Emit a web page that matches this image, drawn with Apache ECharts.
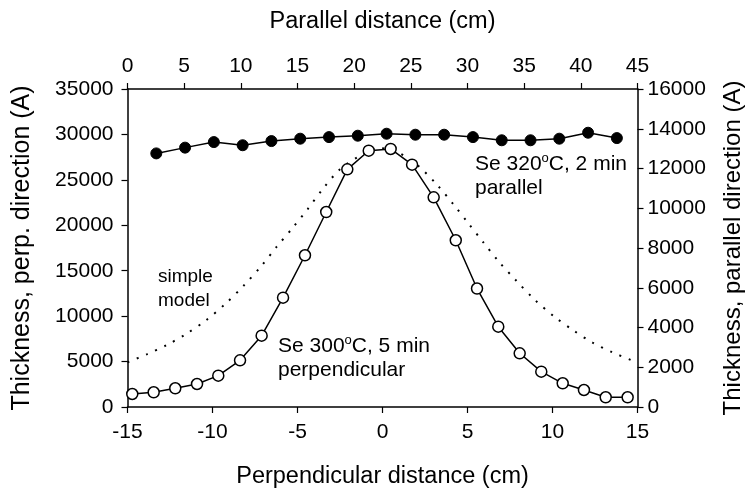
<!DOCTYPE html>
<html>
<head>
<meta charset="utf-8">
<script src="https://cdn.jsdelivr.net/npm/echarts@6/dist/echarts.min.js"></script>
<style>
	html,body{margin:0;padding:0;background:#fff;}
	#chart{width:754px;height:494px;}
</style>
</head>
<body>
<div id="chart"></div>
<script>
	// parallel direction (top x axis, right y axis)
	var parallelX = [2.54, 5.08, 7.62, 10.16, 12.70, 15.24, 17.78, 20.32, 22.86, 25.40, 27.94, 30.48, 33.02, 35.56, 38.10, 40.64, 43.18];
	var parallelY = [12760, 13050, 13330, 13170, 13380, 13500, 13580, 13650, 13750, 13700, 13700, 13580, 13420, 13420, 13500, 13800, 13530];

	// perpendicular direction (bottom x axis, left y axis)
	var perpX = [-14.72, -13.46, -12.19, -10.91, -9.66, -8.38, -7.11, -5.85, -4.56, -3.31, -2.07, -0.81, 0.48, 1.74, 3.01, 4.31, 5.56, 6.81, 8.07, 9.34, 10.60, 11.85, 13.13, 14.42];
	var perpY = [1430, 1620, 2060, 2530, 3450, 5140, 7850, 12030, 16700, 21460, 26160, 28210, 28400, 26670, 23080, 18350, 13040, 8840, 5910, 3890, 2610, 1870, 1070, 1070];

	// simple model (dotted)
	var modelX = [-15.0, -13.87, -12.69, -11.56, -10.38, -9.21, -8.15, -7.13, -6.22, -5.28, -4.40, -3.48, -2.50, -1.32, -0.2, 0.84, 2.11, 3.22, 4.16, 5.05, 5.93, 6.85, 7.87, 8.97, 10.11, 11.25, 12.36, 13.52, 14.66];
	var modelY = [4920, 5800, 6820, 8030, 9540, 11410, 13390, 15520, 17640, 19730, 21790, 24070, 26160, 27660, 28500, 28100, 26520, 24430, 22340, 20220, 18130, 15990, 13900, 11780, 9940, 8400, 7080, 6020, 5140];

	var bottomTicks = [-15, 5, 15];   // min, interval, max
	var topTicks = [0, 5, 45];
	var leftTicks = [0, 5000, 35000];
	var rightTicks = [0, 2000, 16000];

	var FONT = 'Liberation Sans, Arial, sans-serif';

	function zip(xs, ys){
		var out = [];
		for(var i=0;i<xs.length;i++){
			out.push([xs[i], ys[i]]);
		}
		return out;
	}

	function axisBase(){
		return {
			type: 'value',
			splitLine: {show: false},
			axisLine: {show: true, onZero: false, lineStyle: {color: '#000', width: 1.5}},
			axisTick: {show: true, inside: false, length: 6, lineStyle: {color: '#000', width: 1.2}},
			axisLabel: {color: '#000', fontSize: 21, fontFamily: FONT, formatter: function(v){ return String(v); }},
			nameTextStyle: {color: '#000', fontSize: 23.5, fontFamily: FONT},
			nameLocation: 'middle'
		};
	}

	var xBottom = axisBase();
	xBottom.position = 'bottom';
	xBottom.min = bottomTicks[0];
	xBottom.interval = bottomTicks[1];
	xBottom.max = bottomTicks[2];
	xBottom.name = 'Perpendicular distance (cm)';
	xBottom.nameGap = 58;
	xBottom.axisLabel.margin = 15;

	var xTop = axisBase();
	xTop.position = 'top';
	xTop.min = topTicks[0];
	xTop.interval = topTicks[1];
	xTop.max = topTicks[2];
	xTop.name = 'Parallel distance (cm)';
	xTop.nameGap = 55;
	xTop.axisLabel.margin = 12;

	var yLeft = axisBase();
	yLeft.position = 'left';
	yLeft.min = leftTicks[0];
	yLeft.interval = leftTicks[1];
	yLeft.max = leftTicks[2];
	yLeft.name = 'Thickness, perp. direction (A)';
	yLeft.nameGap = 93;
	yLeft.nameTextStyle.fontSize = 25;
	yLeft.axisLabel.margin = 14;

	var yRight = axisBase();
	yRight.position = 'right';
	yRight.min = rightTicks[0];
	yRight.interval = rightTicks[1];
	yRight.max = rightTicks[2];
	yRight.name = 'Thickness, parallel direction (A)';
	yRight.nameGap = 84;
	yRight.nameTextStyle.fontSize = 24;
	yRight.axisLabel.margin = 10;

	function annot(x, y, text, size){
		return {
			type: 'text',
			x: x,
			y: y,
			z: 10,
			style: {
				text: text,
				fill: '#000',
				verticalAlign: 'top',
				rich: {
					n: {fontSize: size, fontFamily: FONT, lineHeight: 24, fill: '#000'},
					s: {fontSize: 13, fontFamily: FONT, lineHeight: 12, verticalAlign: 'top', fill: '#000'}
				}
			}
		};
	}

	var myChart = echarts.init(document.getElementById('chart'));

	var option = {
		animation: false,
		backgroundColor: '#fff',
		grid: {
			left: 127.5,
			right: 116.5,
			top: 89,
			bottom: 87,
			containLabel: false,
			outerBoundsMode: 'none'
		},
		xAxis: [xBottom, xTop],
		yAxis: [yLeft, yRight],
		graphic: [
			annot(475, 152, '{n|Se 320}{s|o}{n|C, 2 min}\n{n|parallel}', 21),
			annot(158, 265, '{n|simple}\n{n|model}', 19),
			annot(278, 334, '{n|Se 300}{s|o}{n|C, 5 min}\n{n|perpendicular}', 21)
		],
		series: [
			{
				name: 'simple model',
				type: 'line',
				xAxisIndex: 0,
				yAxisIndex: 0,
				data: zip(modelX, modelY),
				smooth: 0.3,
				showSymbol: false,
				symbol: 'none',
				lineStyle: {color: '#000', width: 2, type: [2, 8]},
				z: 1
			},
			{
				name: 'perpendicular',
				type: 'line',
				xAxisIndex: 0,
				yAxisIndex: 0,
				data: zip(perpX, perpY),
				symbol: 'circle',
				symbolSize: 11,
				lineStyle: {color: '#000', width: 1.5},
				itemStyle: {color: '#fff', borderColor: '#000', borderWidth: 1.5},
				z: 3
			},
			{
				name: 'parallel',
				type: 'line',
				xAxisIndex: 1,
				yAxisIndex: 1,
				data: zip(parallelX, parallelY),
				symbol: 'circle',
				symbolSize: 11,
				lineStyle: {color: '#000', width: 1.5},
				itemStyle: {color: '#000', borderColor: '#000', borderWidth: 1},
				z: 3
			}
		]
	};

	myChart.setOption(option);
</script>
</body>
</html>
